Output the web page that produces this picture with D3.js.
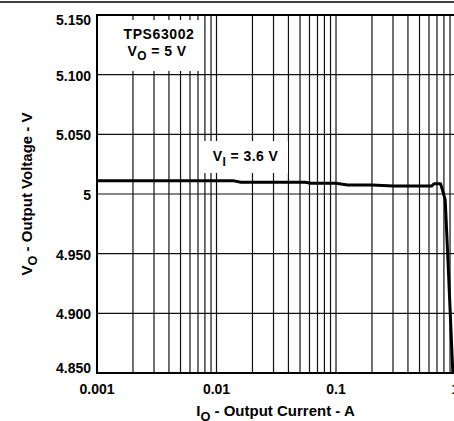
<!DOCTYPE html>
<html>
<head>
<meta charset="utf-8">
<script src="https://cdn.jsdelivr.net/npm/d3@7"></script>
<style>
  body { margin: 0; background: #fff; }
  svg text { font-family: "Liberation Sans", Arial, sans-serif; font-weight: bold; fill: #000; }
</style>
</head>
<body>
<div id="chart"></div>
<script>
// output current (A) and output voltage (V)
const current = [0.001, 0.002, 0.005, 0.01, 0.014, 0.016, 0.03, 0.055, 0.062, 0.1, 0.125, 0.2, 0.3, 0.5, 0.63, 0.66, 0.75, 0.78, 0.82, 0.86, 0.95];
const voltage = [5.011, 5.011, 5.011, 5.011, 5.011, 5.0098, 5.0098, 5.0098, 5.009, 5.009, 5.0075, 5.0075, 5.0068, 5.0067, 5.0067, 5.0085, 5.0085, 5.003, 4.995, 4.95, 4.85];

const xTicks = [0.001, 0.01, 0.1, 1];
const xTickLabels = ["0.001", "0.01", "0.1", "1"];
const yTicks = [4.85, 4.9, 4.95, 5.0, 5.05, 5.1, 5.15];
const yTickLabels = ["4.850", "4.900", "4.950", "5", "5.050", "5.100", "5.150"];

const W = 454, H = 421;
const plotLeft = 97, plotRight = 455.5, plotTop = 15, plotBottom = 373;

const svg = d3.select("#chart")
  .append("svg")
  .attr("width", W)
  .attr("height", H);

const x = d3.scaleLog().domain([0.001, 1]).range([plotLeft, plotRight]);
const y = d3.scaleLinear().domain([4.85, 5.15]).range([plotBottom, plotTop]);

// page rule at the very top
svg.append("line")
  .attr("x1", 0).attr("x2", W)
  .attr("y1", 2).attr("y2", 2)
  .attr("stroke", "#000").attr("stroke-width", 1.5);

// vertical grid: 1..9 per decade
const minor = [];
[0.001, 0.01, 0.1].forEach((d) => {
  for (let k = 1; k <= 9; k++) minor.push(d * k);
});
svg.append("g")
  .selectAll("line")
  .data(minor)
  .join("line")
  .attr("x1", (d) => x(d)).attr("x2", (d) => x(d))
  .attr("y1", plotTop).attr("y2", plotBottom)
  .attr("stroke", "#111")
  .attr("stroke-width", 1.2);

// horizontal grid
svg.append("g")
  .selectAll("line")
  .data(yTicks)
  .join("line")
  .attr("x1", plotLeft).attr("x2", W)
  .attr("y1", (d) => y(d)).attr("y2", (d) => y(d))
  .attr("stroke", "#111")
  .attr("stroke-width", 1.2);

// frame
svg.append("path")
  .attr("d", `M${W},${plotTop}H${plotLeft}V${plotBottom}H${W}`)
  .attr("fill", "none")
  .attr("stroke", "#000")
  .attr("stroke-width", 2);

// label boxes hide the grid behind them
svg.append("rect")
  .attr("x", 100).attr("y", 20).attr("width", 101).attr("height", 51)
  .attr("fill", "#fff");
svg.append("rect")
  .attr("x", 202).attr("y", 141).attr("width", 86).attr("height", 32)
  .attr("fill", "#fff");

// curve
const line = d3.line()
  .x((d) => x(d[0]))
  .y((d) => y(d[1]));

svg.append("path")
  .datum(current.map((c, i) => [c, voltage[i]]))
  .attr("d", line)
  .attr("fill", "none")
  .attr("stroke", "#000")
  .attr("stroke-width", 3)
  .attr("stroke-linejoin", "round");

// y tick labels (end labels sit inside the frame)
svg.append("g")
  .selectAll("text")
  .data(yTicks)
  .join("text")
  .attr("x", 91)
  .attr("y", (d, i) => i === 0 ? y(d) : i === yTicks.length - 1 ? y(d) + 10 : y(d) + 6)
  .attr("text-anchor", "end")
  .attr("font-size", 14)
  .text((d, i) => yTickLabels[i]);

// x tick labels
svg.append("g")
  .selectAll("text")
  .data(xTicks)
  .join("text")
  .attr("x", (d) => x(d))
  .attr("y", 394)
  .attr("text-anchor", "middle")
  .attr("font-size", 14)
  .text((d, i) => xTickLabels[i]);

// text with a subscript
const subText = (g, parts, size) => {
  parts.forEach((p) => {
    g.append("tspan")
      .attr("font-size", p.sub ? size * 0.85 : size)
      .attr("dy", p.sub ? size * 0.35 : (p.after ? -size * 0.35 : 0))
      .text(p.t);
  });
};

const xTitle = svg.append("text")
  .attr("x", 275.5).attr("y", 416)
  .attr("text-anchor", "middle");
subText(xTitle, [{ t: "I" }, { t: "O", sub: true }, { t: " - Output Current - A", after: true }], 15);

const yTitle = svg.append("text")
  .attr("transform", `translate(32,${(plotTop + plotBottom) / 2}) rotate(-90)`)
  .attr("text-anchor", "middle");
subText(yTitle, [{ t: "V" }, { t: "O", sub: true }, { t: " - Output Voltage - V", after: true }], 15);

svg.append("text")
  .attr("x", 159).attr("y", 39)
  .attr("text-anchor", "middle")
  .attr("font-size", 14)
  .attr("letter-spacing", 0.6)
  .text("TPS63002");

const vo = svg.append("text")
  .attr("x", 157).attr("y", 55.5)
  .attr("text-anchor", "middle")
  .attr("letter-spacing", 0.4);
subText(vo, [{ t: "V" }, { t: "O", sub: true }, { t: " = 5 V", after: true }], 14);

const vi = svg.append("text")
  .attr("x", 245.5).attr("y", 161)
  .attr("text-anchor", "middle")
  .attr("letter-spacing", 0.4);
subText(vi, [{ t: "V" }, { t: "I", sub: true }, { t: " = 3.6 V", after: true }], 14);
</script>
</body>
</html>
